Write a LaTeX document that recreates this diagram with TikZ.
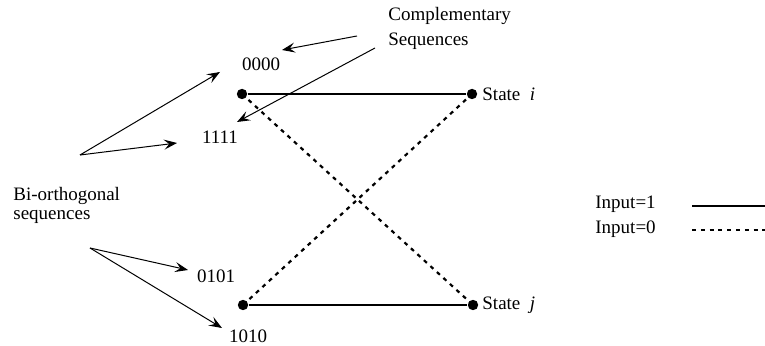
\documentclass[tikz,border=0pt]{standalone}
\usepackage{fontspec}
\setmainfont{Liberation Serif}
\usetikzlibrary{arrows.meta}
\begin{document}
\begin{tikzpicture}[x=0.5pt,y=-0.5pt,
  dotn/.style={circle,fill=black,inner sep=0pt,minimum size=5.2pt},
  lbl/.style={font=\fontsize{9.5}{11}\selectfont, inner sep=0pt},
  solidl/.style={line width=1pt},
  dashl/.style={line width=1.1pt, dash pattern=on 2pt off 2.4pt},
  arr/.style={line width=0.5pt, -{Stealth[length=6.5pt,width=5pt,inset=2.6pt]}},
]
\useasboundingbox (0,0) rectangle (765,346);
% dots
\node[dotn] (A) at (242,94) {};
\node[dotn] (B) at (472,94) {};
\node[dotn] (C) at (243,305) {};
\node[dotn] (D) at (473,305) {};
% transitions
\draw[solidl] (A) -- (B);
\draw[solidl] (C) -- (D);
\draw[dashl] (A.center) -- (D.center);
\draw[dashl] (C.center) -- (B.center);
% state labels
\node[lbl, anchor=west] (si) at (482,94) {State\ \ \textit{i}};
\node[lbl, anchor=west] (sj) at (482,305) {State\ \ \textit{j}};
% sequences
\node[lbl] (s0000) at (261,64) {0000};
\node[lbl] (s1111) at (220,137) {1111};
\node[lbl] (s0101) at (216,276) {0101};
\node[lbl] (s1010) at (248,336) {1010};
% complementary
\node[lbl, anchor=west] (comp) at (388,16) {Complementary};
\node[lbl, anchor=west] (compseq) at (388,41) {Sequences};
\coordinate (c1) at (357,36);
\coordinate (c2) at (375,48);
\coordinate (t0) at (282,50);
\coordinate (t1) at (237,122);
\draw[arr] (c1) -- (t0);
\draw[arr] (c2) -- (t1);
% bi-orthogonal
\node[lbl, anchor=west] (bio) at (13,196) {Bi-orthogonal};
\node[lbl, anchor=west] (bioseq) at (13,217) {sequences};
\coordinate (o1) at (80,155);
\coordinate (o2) at (90,248);
\coordinate (u0) at (220,72);
\coordinate (u1) at (177,143);
\coordinate (l0) at (188,270);
\coordinate (l1) at (222,328);
\draw[arr] (o1) -- (u0);
\draw[arr] (o1) -- (u1);
\draw[arr] (o2) -- (l0);
\draw[arr] (o2) -- (l1);
% legend
\node[lbl, anchor=west] (in1) at (595,204) {Input=1};
\node[lbl, anchor=west] (in0) at (595,229) {Input=0};
\coordinate (g1a) at (692,206);
\coordinate (g1b) at (765,206);
\coordinate (g0a) at (692,230);
\coordinate (g0b) at (765,230);
\draw[solidl] (g1a) -- (g1b);
\draw[dashl] (g0a) -- (g0b);
\end{tikzpicture}
\end{document}
